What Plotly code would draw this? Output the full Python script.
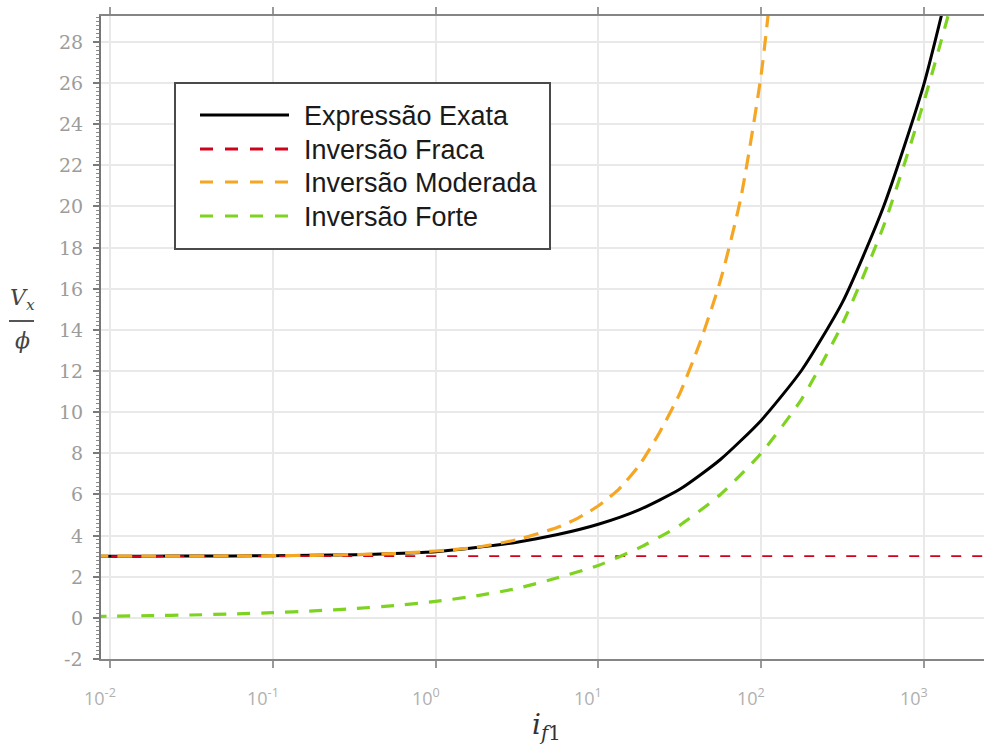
import math
import plotly.graph_objects as go

# ---------------- data ----------------
if_exata = [0.00562, 0.01, 0.0178, 0.0316, 0.0562, 0.1, 0.178, 0.316, 0.562, 1, 1.778,
            3.162, 5.623, 10, 17.78, 31.62, 56.23, 100, 177.8, 316.2, 562.3, 1000, 1778]
v_exata = [3.0, 3.0, 3.0, 3.01, 3.01, 3.02, 3.04, 3.07, 3.13, 3.22, 3.42,
           3.68, 4.05, 4.55, 5.25, 6.25, 7.7, 9.6, 12.05, 15.35, 19.95, 25.95, 34.0]

if_fraca = [0.00562, 3000]
v_fraca = [3.0, 3.0]

if_moderada = [0.00562, 0.0178, 0.0562, 0.178, 0.562, 1, 1.778, 3.162, 5.623, 7.499, 10,
               13.34, 17.78, 23.71, 31.62, 42.17, 56.23, 74.99, 100, 133.4]
v_moderada = [3.0, 3.0, 3.01, 3.04, 3.13, 3.25, 3.43, 3.8, 4.4, 4.85, 5.45,
              6.25, 7.4, 9.0, 10.9, 13.4, 16.4, 20.4, 26.4, 35.5]

if_forte = [0.00562, 0.01, 0.0178, 0.0316, 0.0562, 0.1, 0.178, 0.316, 0.562, 1, 1.778,
            3.162, 5.623, 10, 17.78, 31.62, 56.23, 100, 177.8, 316.2, 562.3, 1000, 1778]
v_forte = [0.06, 0.08, 0.11, 0.14, 0.19, 0.25, 0.34, 0.45, 0.6, 0.8, 1.07,
           1.43, 1.95, 2.55, 3.4, 4.5, 6.0, 8.0, 10.65, 14.3, 19.0, 25.1, 32.2]

series_names = ["Expressão Exata", "Inversão Fraca", "Inversão Moderada", "Inversão Forte"]
series_colors = ["#000000", "#D0021B", "#F5A623", "#7ED321"]

x_tickvals = [0.01, 0.1, 1, 10, 100, 1000]
x_ticktext = ["10<sup>-2</sup>", "10<sup>-1</sup>", "10<sup>0</sup>",
              "10<sup>1</sup>", "10<sup>2</sup>", "10<sup>3</sup>"]
y_tickvals = [-2, 0, 2, 4, 6, 8, 10, 12, 14, 16, 18, 20, 22, 24, 26, 28]
y_ticktext = ["-2", "0", "2", "4", "6", "8", "10", "12", "14", "16", "18", "20",
              "22", "24", "26", "28"]

# ---------------- layout helpers ----------------
W, H = 984, 754
L, R, T, B = 101, 984, 16, 659


def px(x):
    return (x - L) / (R - L)


def py(y):
    return (B - y) / (B - T)


line_styles = [
    dict(width=3, dash="solid"),
    dict(width=1.6, dash="10px,11px"),
    dict(width=3.2, dash="15px,9px"),
    dict(width=3.2, dash="13px,11px"),
]
data = [(if_exata, v_exata), (if_fraca, v_fraca), (if_moderada, v_moderada), (if_forte, v_forte)]

traces = []
for (xs, ys), name, color, st in zip(data, series_names, series_colors, line_styles):
    traces.append(go.Scatter(
        x=xs, y=ys, mode="lines", name=name, showlegend=False,
        line=dict(color=color, width=st["width"], dash=st["dash"], shape="spline", smoothing=0.6),
        hoverinfo="skip",
    ))

xaxis = dict(
    type="log", range=[-2.055, 3.369],
    tickmode="array", tickvals=x_tickvals, showticklabels=False,
    ticks="outside", ticklen=7, tickwidth=1.5, tickcolor="#9a9a9a",
    showgrid=True, gridcolor="#e9e9e9", gridwidth=1.5,
    showline=True, linecolor="#858585", linewidth=1.8, mirror="ticks",
    zeroline=False,
)
yaxis = dict(
    range=[-2, 29.26],
    tickmode="array", tickvals=y_tickvals, showticklabels=False,
    ticks="outside", ticklen=6, tickwidth=1.5, tickcolor="#7a7a7a",
    minor=dict(ticks="outside", dtick=0.2, ticklen=3, tickwidth=1, tickcolor="#8a8a8a", showgrid=False),
    showgrid=True, gridcolor="#e9e9e9", gridwidth=1.5,
    showline=True, linecolor="#777777", linewidth=2,
    zeroline=False,
)

annotations = []
# ---------------- tick labels (as text at the axis values) ----------------
for v, t in zip(y_tickvals, y_ticktext):
    annotations.append(dict(xref="paper", yref="y", x=px(85), y=v,
                            xanchor="right", yanchor="middle", showarrow=False,
                            text=t, font=dict(family="DejaVu Serif", size=19, color="#9c9c9c")))
for v, t in zip(x_tickvals, x_ticktext):
    annotations.append(dict(xref="x", yref="paper", x=math.log10(v), y=py(712),
                            xanchor="center", yanchor="bottom", showarrow=False, xshift=-10,
                            text=t, font=dict(family="Open Sans", size=18, color="#b0b0b0")))

# ---------------- custom legend ----------------
shapes = [dict(type="rect", xref="paper", yref="paper",
               x0=px(175), x1=px(550), y0=py(249), y1=py(83),
               line=dict(color="#4a4a4a", width=2), fillcolor="white", layer="above")]
legend_rows = [115, 149, 182, 216]
for name, color, st, yrow in zip(series_names, series_colors, line_styles, legend_rows):
    dash = st["dash"] if st["dash"] == "solid" else "13px,12px"
    shapes.append(dict(type="line", xref="paper", yref="paper",
                       x0=px(200), x1=px(289), y0=py(yrow), y1=py(yrow),
                       line=dict(color=color, width=3, dash=dash), layer="above"))
    annotations.append(dict(xref="paper", yref="paper", x=px(302), y=py(yrow + 1),
                            xanchor="left", yanchor="middle", showarrow=False,
                            text=name, font=dict(family="Liberation Sans", size=27, color="#1a1a1a")))

# ---------------- axis titles ----------------
annotations.append(dict(xref="paper", yref="paper", x=px(22), y=py(300),
                        xanchor="center", yanchor="middle", showarrow=False,
                        text="<i>V<sub>x</sub></i>",
                        font=dict(family="DejaVu Serif", size=22, color="#444444")))
shapes.append(dict(type="line", xref="paper", yref="paper",
                   x0=px(9), x1=px(34), y0=py(321), y1=py(321),
                   line=dict(color="#555555", width=2)))
annotations.append(dict(xref="paper", yref="paper", x=px(22), y=py(340),
                        xanchor="center", yanchor="middle", showarrow=False,
                        text="<i>ϕ</i>",
                        font=dict(family="DejaVu Serif", size=22, color="#444444")))
annotations.append(dict(xref="paper", yref="paper", x=px(546), y=py(727),
                        xanchor="center", yanchor="middle", showarrow=False,
                        text="<i>i</i><sub><i>f</i>1</sub>",
                        font=dict(family="DejaVu Serif", size=28, color="#333333")))

layout = go.Layout(
    width=W, height=H,
    margin=dict(l=L, r=W - R, t=T, b=H - B, pad=0),
    paper_bgcolor="white", plot_bgcolor="white",
    showlegend=False,
    xaxis=xaxis, yaxis=yaxis,
    shapes=shapes, annotations=annotations,
)

fig = go.Figure(data=traces, layout=layout)
fig.write_html("out.html")
